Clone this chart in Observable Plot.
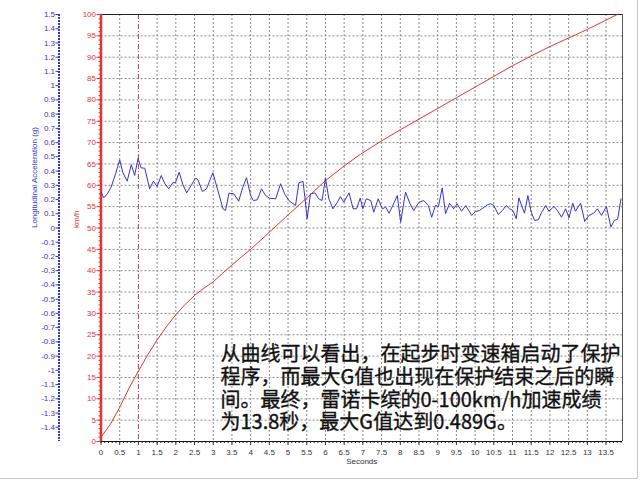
<!DOCTYPE html>
<html><head><meta charset="utf-8">
<script src="https://cdn.jsdelivr.net/npm/d3@7"></script>
<script src="https://cdn.jsdelivr.net/npm/@observablehq/plot@0.6"></script>
<style>
body{margin:0;background:#fff;}
#wrap{position:relative;width:640px;height:480px;overflow:hidden;background:#fff;}
#edge{position:absolute;left:0;top:0;width:637px;height:478px;border-right:1px solid #c8c8c8;border-bottom:1px solid #c8c8c8;pointer-events:none;}
</style></head><body><div id="wrap"></div>
<script>
// ---- data ----
const blueT = [0,0.075,0.17,0.27,0.39,0.5,0.58,0.7,0.81,0.9,0.99,1.07,1.17,1.3,1.4,1.5,1.61,1.7,1.81,1.92,1.99,2.09,2.19,2.29,2.42,2.53,2.59,2.71,2.82,2.99,3.15,3.26,3.33,3.42,3.55,3.68,3.79,3.89,4.0,4.07,4.18,4.29,4.4,4.51,4.67,4.8,4.91,5.02,5.2,5.29,5.4,5.45,5.51,5.6,5.72,5.82,5.91,6.0,6.09,6.2,6.32,6.4,6.49,6.63,6.74,6.83,6.93,7.0,7.09,7.21,7.29,7.41,7.52,7.61,7.7,7.8,7.92,8.01,8.14,8.26,8.36,8.5,8.63,8.75,8.84,8.94,9.02,9.12,9.21,9.32,9.43,9.52,9.64,9.75,9.91,10.01,10.12,10.24,10.33,10.41,10.5,10.62,10.73,10.83,10.92,11.01,11.1,11.17,11.26,11.32,11.41,11.5,11.59,11.69,11.78,11.89,11.97,12.11,12.2,12.31,12.42,12.51,12.61,12.68,12.82,12.93,13.04,13.17,13.27,13.38,13.51,13.63,13.72,13.81,13.9];
const blueG = [0.252,0.212,0.240,0.287,0.381,0.479,0.392,0.329,0.446,0.369,0.489,0.423,0.42,0.275,0.329,0.292,0.369,0.315,0.275,0.318,0.318,0.392,0.304,0.247,0.304,0.35,0.339,0.256,0.275,0.388,0.240,0.135,0.123,0.245,0.24,0.188,0.287,0.353,0.228,0.193,0.198,0.275,0.228,0.209,0.205,0.311,0.24,0.193,0.158,0.318,0.327,0.216,0.065,0.24,0.247,0.205,0.193,0.353,0.205,0.135,0.181,0.221,0.181,0.247,0.135,0.135,0.21,0.135,0.205,0.193,0.111,0.205,0.135,0.146,0.104,0.158,0.228,0.041,0.252,0.170,0.123,0.181,0.193,0.158,0.076,0.158,0.151,0.282,0.100,0.174,0.135,0.170,0.118,0.158,0.088,0.116,0.123,0.146,0.163,0.17,0.158,0.095,0.123,0.158,0.135,0.123,0.065,0.212,0.146,0.104,0.228,0.111,0.053,0.058,0.111,0.158,0.118,0.151,0.123,0.076,0.135,0.072,0.174,0.118,0.174,0.046,0.088,0.104,0.135,0.088,0.151,0.006,0.053,0.062,0.205];
const redT = [0,0.25,0.5,0.75,1.0,1.25,1.5,1.75,2.0,2.25,2.5,2.75,3.0,3.25,3.5,3.75,4.0,4.4,4.93,5.47,6.0,6.54,6.94,7.52,8.0,8.5,9.0,9.5,10.0,10.5,11.0,11.5,12.0,12.5,13.0,13.5,13.8];
const redV = [1,4,8,12.5,16.5,20.3,23.8,26.9,29.7,32.1,34.2,35.9,37.4,39.4,41.3,43.2,45,48.2,52.5,56.8,61.1,64.8,67.3,70.5,73,75.5,78,80.5,83,85.5,88,90.3,92.5,94.5,96.5,98.7,100];
const xTicks = d3.range(0, 13.51, 0.5).map(d => +d.toFixed(1));
const xMinor = d3.range(0, 13.91, 0.1).map(d => +d.toFixed(1));
const speedTicks = d3.range(0, 101, 5);
const speedMinor = d3.range(0, 101, 1);
const gTicks = d3.range(-14, 16, 1).map(d => d / 10);
const markerT = [1];
const axisLabels = {x: "Seconds", speed: "km/h", g: "Longitudinal Acceleration (g)"};
const noteLines = [
  "从曲线可以看出，在起步时变速箱启动了保护",
  "程序，而最大G值也出现在保护结束之后的瞬",
  "间。最终，雷诺卡缤的0-100km/h加速成绩",
  "为13.8秒，最大G值达到0.489G。"
];
// ---- helpers ----
const gToKmh = g => 50 + g * 100 / 3;
const kmhToG = v => Math.round((v - 50) * 0.3) / 10;
const RED = "#e03535", BLUE = "#3535c8", GRID = "#8a8a8a";
const XMAX = 13.94;

const chart = Plot.plot({
  width: 640, height: 480,
  marginLeft: 100.5, marginRight: 18, marginTop: 14, marginBottom: 39,
  x: {domain: [0, XMAX], axis: null},
  y: {domain: [0, 100], axis: null},
  style: {fontFamily: "Liberation Sans, Arial, sans-serif", fontSize: "8px", background: "white", overflow: "visible"},
  marks: [
    Plot.ruleX(xTicks.filter(d => d > 0 && d !== 1), {stroke: GRID, strokeDasharray: "2,2"}),
    Plot.ruleY(speedTicks.filter(d => d > 0 && d < 100), {stroke: GRID, strokeDasharray: "2,2"}),
    Plot.ruleX(markerT, {stroke: "#b04050", strokeDasharray: "5,2,1,2"}),
    Plot.ruleY([100], {stroke: "#222", strokeWidth: 1.2}),
    Plot.ruleX([XMAX], {stroke: "#555"}),
    Plot.ruleY([0], {stroke: "#111"}),
    Plot.axisX(xMinor, {anchor: "bottom", tickSize: 2, tickFormat: () => "", color: "#222", label: null}),
    Plot.axisX(xTicks, {anchor: "bottom", tickSize: 4, tickPadding: 4, tickFormat: d => String(d), color: "#333", fontSize: 8, label: null}),
    Plot.text([axisLabels.x], {text: d => d, frameAnchor: "bottom", dy: 22, fill: "#333", fontSize: 8}),
    // red speed axis
    Plot.axisY(speedMinor, {anchor: "left", tickSize: 2, tickFormat: () => "", color: RED, label: null}),
    Plot.axisY(speedTicks, {anchor: "left", tickSize: 4, tickPadding: 1, color: RED, fontSize: 8, label: null}),
    Plot.ruleX([0], {stroke: RED, strokeWidth: 2.5}),
    Plot.text([axisLabels.speed], {text: d => d, frameAnchor: "left", dx: -25, rotate: -90, fill: RED, fontSize: 8}),
    // blue g axis
    Plot.axisY(gTicks.map(gToKmh), {anchor: "left", dx: -42, tickSize: 3, tickPadding: 1, tickFormat: d => String(kmhToG(d)), color: BLUE, fontSize: 8, label: null}),
    Plot.ruleX([0], {dx: -42, stroke: BLUE, strokeWidth: 2, strokeDasharray: "2,1"}),
    Plot.text([axisLabels.g], {text: d => d, frameAnchor: "left", dx: -67, rotate: -90, fill: BLUE, fontSize: 8}),
    // series
    Plot.line(redV, {x: (d, i) => redT[i], y: d => d, stroke: RED, strokeWidth: 1}),
    Plot.line(blueG, {x: (d, i) => blueT[i], y: d => gToKmh(d), stroke: BLUE, strokeWidth: 1}),
    // annotation
    Plot.text([noteLines.join("\n")], {
      text: d => d, frameAnchor: "top-left", dx: 119.5, dy: 330.5,
      textAnchor: "start", lineAnchor: "top", lineHeight: 1.135,
      fontSize: 20, fontFamily: "Noto Sans CJK SC, sans-serif",
      fill: "#111", stroke: "#111", strokeWidth: 0.35
    })
  ]
});
const wrap = document.getElementById("wrap");
wrap.appendChild(chart);
const edge = document.createElement("div");
edge.id = "edge";
wrap.appendChild(edge);
</script></body></html>
